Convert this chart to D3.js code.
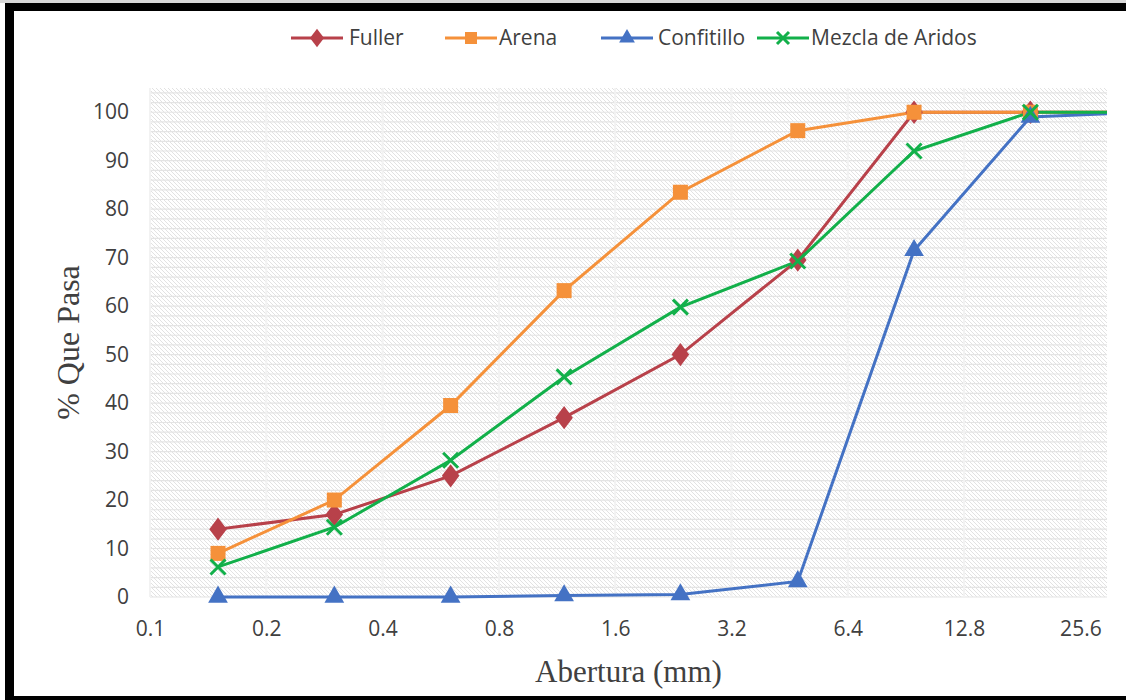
<!DOCTYPE html>
<html>
<head>
<meta charset="utf-8">
<script src="https://cdn.jsdelivr.net/npm/d3@7"></script>
<style>
  body { margin: 0; background: #fff; }
  svg text { fill: #404040; }
</style>
</head>
<body>
<div id="chart"></div>
<script>
// sieve openings (mm) and % passing for each series
var aberturas = [0.15, 0.3, 0.6, 1.18, 2.36, 4.75, 9.5, 19, 37.5];
var fuller = [14, 17, 25, 37, 50, 69.5, 100, 100, 100];
var arena = [9, 20, 39.5, 63.2, 83.5, 96.2, 100, 100, 100];
var confitillo = [0, 0, 0, 0.3, 0.5, 3.2, 71.5, 99, 100];
var mezcla = [6.2, 14.4, 28.2, 45.4, 59.8, 69.3, 92, 100, 100];
var xTicks = [0.1, 0.2, 0.4, 0.8, 1.6, 3.2, 6.4, 12.8, 25.6];
var yTicks = [0, 10, 20, 30, 40, 50, 60, 70, 80, 90, 100];

var series = [
    { name: "Fuller", values: fuller, color: "#b8414a", marker: "diamond" },
    { name: "Arena", values: arena, color: "#f5913a", marker: "square" },
    { name: "Confitillo", values: confitillo, color: "#4472c4", marker: "triangle" },
    { name: "Mezcla de Aridos", values: mezcla, color: "#12b04a", marker: "x" }
];

var width = 1126, height = 700;
var plot = { left: 150, right: 1107, top: 88, bottom: 597 };

var svg = d3.select("#chart").append("svg")
    .attr("width", width)
    .attr("height", height);

// outer frame (black on left/top/bottom like the scan)
svg.append("rect").attr("x", 0).attr("y", 0).attr("width", width).attr("height", 3).attr("fill", "#d8d8d8");
svg.append("rect").attr("x", 5).attr("y", 3).attr("width", width - 5).attr("height", 8).attr("fill", "#000");
svg.append("rect").attr("x", 5).attr("y", 3).attr("width", 9).attr("height", height - 3).attr("fill", "#000");
svg.append("rect").attr("x", 5).attr("y", 696).attr("width", width - 5).attr("height", 4).attr("fill", "#000");

var x = d3.scaleLog().base(2)
    .domain([0.1, 30])
    .range([plot.left, plot.right]);

var y = d3.scaleLinear()
    .domain([0, 105])
    .range([plot.bottom, plot.top]);

// hatch pattern for plot background
var defs = svg.append("defs");
var pat = defs.append("pattern")
    .attr("id", "hatch")
    .attr("patternUnits", "userSpaceOnUse")
    .attr("width", 4)
    .attr("height", 4);
pat.append("rect").attr("width", 4).attr("height", 4).attr("fill", "#ffffff");
pat.append("path")
    .attr("d", "M-1,-1 L5,5 M-1,3 L1,5 M3,-1 L5,1")
    .attr("stroke", "#e2e2e2")
    .attr("stroke-width", 1);

defs.append("clipPath").attr("id", "plotClip")
    .append("rect")
    .attr("x", plot.left).attr("y", plot.top - 8)
    .attr("width", plot.right - plot.left).attr("height", plot.bottom - plot.top + 16);

svg.append("rect")
    .attr("x", plot.left).attr("y", plot.top)
    .attr("width", plot.right - plot.left)
    .attr("height", plot.bottom - plot.top)
    .attr("fill", "url(#hatch)");

// minor horizontal grid
svg.append("g").selectAll("line")
    .data(d3.range(0, 105, 2))
    .join("line")
    .attr("x1", plot.left).attr("x2", plot.right)
    .attr("y1", d => y(d)).attr("y2", d => y(d))
    .attr("stroke", "#e4e4e4")
    .attr("stroke-width", 1.2);

// vertical grid at ticks
svg.append("g").selectAll("line")
    .data(xTicks)
    .join("line")
    .attr("x1", d => x(d)).attr("x2", d => x(d))
    .attr("y1", plot.top).attr("y2", plot.bottom)
    .attr("stroke", "#f2f2f2")
    .attr("stroke-width", 2);

// axes (labels only, no domain lines)
var xAxis = svg.append("g")
    .attr("transform", `translate(0, ${plot.bottom + 16})`)
    .call(d3.axisBottom(x).tickValues(xTicks).tickFormat(d => d).tickSize(0).tickPadding(8));
xAxis.select(".domain").remove();
xAxis.selectAll("text")
    .attr("font-family", "'Open Sans', sans-serif")
    .attr("font-size", 21)
    .attr("fill", "#404040");

var yAxis = svg.append("g")
    .attr("transform", `translate(${plot.left - 10}, 0)`)
    .call(d3.axisLeft(y).tickValues(yTicks).tickSize(0).tickPadding(11));
yAxis.select(".domain").remove();
yAxis.selectAll("text")
    .attr("font-family", "'Open Sans', sans-serif")
    .attr("font-size", 21)
    .attr("fill", "#404040");

// axis titles
svg.append("text")
    .attr("x", (plot.left + plot.right) / 2)
    .attr("y", 682)
    .attr("text-anchor", "middle")
    .attr("font-family", "'Liberation Serif', serif")
    .attr("font-size", 31)
    .text("Abertura (mm)");

svg.append("text")
    .attr("transform", `translate(79, ${(plot.top + plot.bottom) / 2}) rotate(-90)`)
    .attr("text-anchor", "middle")
    .attr("font-family", "'Liberation Serif', serif")
    .attr("font-size", 32)
    .text("% Que Pasa");

// marker drawing
function drawMarker(g, type, color, size) {
    if (type === "diamond") {
        g.append("path").attr("d", d3.symbol(d3.symbolDiamond, size * size * 0.7)())
            .attr("fill", color).attr("transform", "scale(1.3,1)");
    } else if (type === "square") {
        g.append("rect").attr("x", -size / 2).attr("y", -size / 2)
            .attr("width", size).attr("height", size).attr("fill", color);
    } else if (type === "triangle") {
        g.append("path").attr("d", d3.symbol(d3.symbolTriangle, size * size * 0.75)())
            .attr("fill", color);
    } else {
        var h = size / 2;
        g.append("path").attr("d", `M${-h},${-h}L${h},${h}M${-h},${h}L${h},${-h}`)
            .attr("stroke", color).attr("stroke-width", 3).attr("fill", "none");
    }
}

var line = d3.line()
    .x((d, i) => x(aberturas[i]))
    .y(d => y(d));

var plotG = svg.append("g").attr("clip-path", "url(#plotClip)");

series.forEach(function (s) {
    plotG.append("path")
        .datum(s.values)
        .attr("fill", "none")
        .attr("stroke", s.color)
        .attr("stroke-width", 3)
        .attr("d", line);
});

series.forEach(function (s) {
    plotG.selectAll(null)
        .data(s.values)
        .join("g")
        .attr("transform", (d, i) => `translate(${x(aberturas[i])}, ${y(d)})`)
        .each(function () {
            drawMarker(d3.select(this), s.marker, s.color, 15);
        });
});

// legend
var legendItems = [
    { lineX: 291, textX: 349 },
    { lineX: 445, textX: 499 },
    { lineX: 601, textX: 658 },
    { lineX: 757, textX: 811 }
];
var legend = svg.append("g");
series.forEach(function (s, i) {
    var item = legendItems[i];
    var g = legend.append("g");
    g.append("line")
        .attr("x1", item.lineX).attr("x2", item.lineX + 52)
        .attr("y1", 38).attr("y2", 38)
        .attr("stroke", s.color).attr("stroke-width", 3);
    var m = g.append("g").attr("transform", `translate(${item.lineX + 26}, 38)`);
    drawMarker(m, s.marker, s.color, 12);
    g.append("text")
        .attr("x", item.textX)
        .attr("y", 38)
        .attr("dy", "0.35em")
        .attr("font-family", "'Open Sans', sans-serif")
        .attr("font-size", 21)
        .attr("fill", "#404040")
        .text(s.name);
});
</script>
</body>
</html>
